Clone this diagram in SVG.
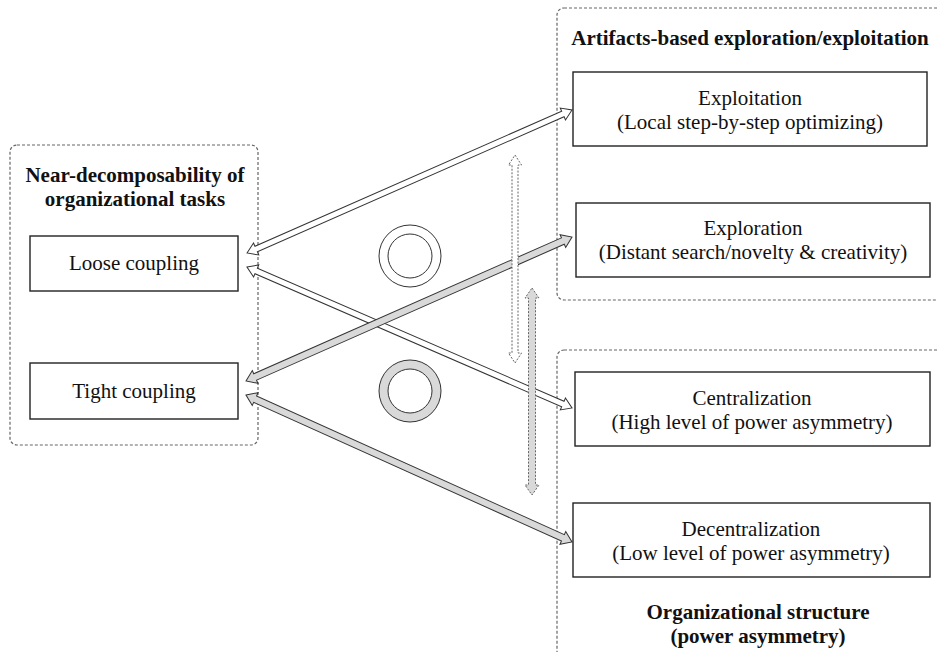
<svg xmlns="http://www.w3.org/2000/svg" width="937" height="652" viewBox="0 0 937 652">
<style>
.cont{fill:none;stroke:#666;stroke-width:1.2;stroke-dasharray:3 2}
.box{fill:#fff;stroke:#222;stroke-width:1.4}
.t{font-family:"Liberation Serif","Times New Roman",serif;font-size:21px;fill:#111;text-anchor:middle}
.b{font-weight:bold}
.aw{fill:#fff;stroke:#333;stroke-width:1}
.ag{fill:#d9d9d9;stroke:#333;stroke-width:1}
.dw{fill:#fff;stroke:#666;stroke-width:1;stroke-dasharray:2 1.5}
.dg{fill:#d9d9d9;stroke:#666;stroke-width:1;stroke-dasharray:2 1.5}
.ring{stroke:#333;stroke-width:1;fill-rule:evenodd}
</style>
<rect width="937" height="652" fill="#fff"/>
<g id="containers">
<rect class="cont" x="10" y="145" width="248" height="300" rx="7"/>
<rect class="cont" x="557" y="8" width="400" height="292" rx="7"/>
<rect class="cont" x="557" y="350" width="400" height="330" rx="7"/>
<text class="t b" x="135" y="182">Near-decomposability of</text>
<text class="t b" x="135" y="206">organizational tasks</text>
<text class="t b" x="750" y="45">Artifacts-based exploration/exploitation</text>
<text class="t b" x="758" y="619">Organizational structure</text>
<text class="t b" x="758" y="643">(power asymmetry)</text>
</g>
<g id="connectors">
<polygon class="aw" transform="translate(247,253) rotate(-23.75)" points="0,0 10,-6.5 10,-3 345.1,-3 345.1,-6.5 355.1,0 345.1,6.5 345.1,3 10,3 10,6.5"/>
<polygon class="aw" transform="translate(247,267) rotate(23.45)" points="0,0 10,-6.5 10,-3 344.3,-3 344.3,-6.5 354.3,0 344.3,6.5 344.3,3 10,3 10,6.5"/>
<polygon class="ag" transform="translate(246,381) rotate(-23.83)" points="0,0 10,-7 10,-3.5 346.4,-3.5 346.4,-7 356.4,0 346.4,7 346.4,3.5 10,3.5 10,7"/>
<polygon class="ag" transform="translate(246,395) rotate(24.27)" points="0,0 10,-7 10,-3.5 347.6,-3.5 347.6,-7 357.6,0 347.6,7 347.6,3.5 10,3.5 10,7"/>
<polygon class="dw" transform="translate(515,155) rotate(90)" points="0,0 10,-6.5 10,-3 198,-3 198,-6.5 208,0 198,6.5 198,3 10,3 10,6.5"/>
<polygon class="dg" transform="translate(532,288) rotate(90)" points="0,0 10,-7 10,-3.5 197,-3.5 197,-7 207,0 197,7 197,3.5 10,3.5 10,7"/>
</g>
<g id="ring-top">
<path class="ring" fill="#fff" d="M379,256 a31,31 0 1,0 62,0 a31,31 0 1,0 -62,0 Z M388,256 a22,22 0 1,0 44,0 a22,22 0 1,0 -44,0 Z"/>
</g>
<g id="ring-bottom">
<path class="ring" fill="#d9d9d9" d="M379,391 a31,31 0 1,0 62,0 a31,31 0 1,0 -62,0 Z M388,391 a22,22 0 1,0 44,0 a22,22 0 1,0 -44,0 Z"/>
</g>
<g id="loose-coupling">
<rect class="box" x="30" y="236" width="208" height="55"/>
<text class="t" x="134" y="270">Loose coupling</text>
</g>
<g id="tight-coupling">
<rect class="box" x="30" y="363" width="208" height="56"/>
<text class="t" x="134" y="398">Tight coupling</text>
</g>
<g id="exploitation">
<rect class="box" x="573" y="72" width="354" height="74"/>
<text class="t" x="750" y="105">Exploitation</text>
<text class="t" x="750" y="129">(Local step-by-step optimizing)</text>
</g>
<g id="exploration">
<rect class="box" x="576" y="203" width="354" height="74"/>
<text class="t" x="753" y="235">Exploration</text>
<text class="t" x="753" y="259">(Distant search/novelty &amp; creativity)</text>
</g>
<g id="centralization">
<rect class="box" x="575" y="372" width="355" height="74"/>
<text class="t" x="752" y="405">Centralization</text>
<text class="t" x="752" y="429">(High level of power asymmetry)</text>
</g>
<g id="decentralization">
<rect class="box" x="573" y="503" width="357" height="74"/>
<text class="t" x="751" y="536">Decentralization</text>
<text class="t" x="751" y="560">(Low level of power asymmetry)</text>
</g>
</svg>
